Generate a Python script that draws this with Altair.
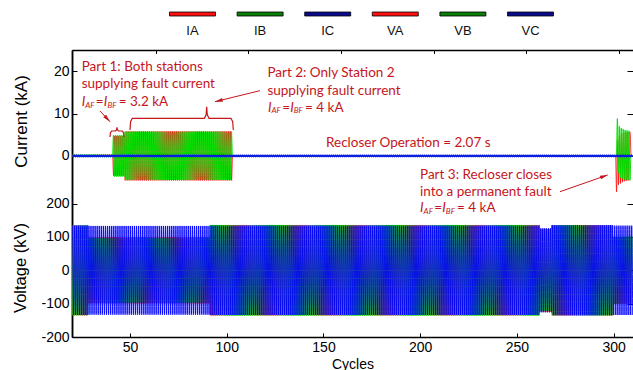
import math
import altair as alt
import pandas as pd

# ---------------- data ----------------
# Current (kA): time segments [t0, t1) in cycles and half-cycle peak per phase
I_t0 = [20.0, 41.2, 47.4, 102.6, 301.5, 308.6]
I_t1 = [41.2, 47.4, 102.6, 301.5, 308.6, 310.0]
IA_pk = [0.25, 4.7, 5.8, 0.0, None, 0.0]
IB_pk = [0.30, 4.9, 5.7, 0.0, None, 0.0]
IC_pk = [0.10, 0.10, 0.10, 0.10, 0.10, 0.10]
# Part 3 (reclose onto permanent fault): successive half-cycle peaks (kA)
IA_p3 = [-8.5, 3.8, -6.8, 4.8, -6.5, 5.2, -6.2, 5.4, -6.0, 5.5, -5.9, 5.6, -5.8, 5.6]
IB_p3 = [8.8, -4.0, 7.0, -5.2, 6.6, -5.4, 6.3, -5.6, 6.1, -5.7, 6.0, -5.7, 5.9, -5.8]

# Voltage (kV): time segments and half-cycle peak per phase
V_t0 = [20.0, 28.4, 91.2, 261.8, 268.0, 299.6]
V_t1 = [28.4, 91.2, 261.8, 268.0, 299.6, 310.0]
VA_pk = [135, 99, 135, 124, 135, 100]
VB_pk = [135, 97, 136, 122, 135, 101]
VC_pk = [134, 133, 134, 126, 135, 134]

# phase offsets (cycles)
PH = {"IA": 0.0, "IB": 0.43, "IC": 0.25, "VA": 0.0, "VB": 0.667, "VC": 0.333}

legend_names = ["IA", "IB", "IC", "VA", "VB", "VC"]
legend_colors = ["#ff1010", "#0a7d0a", "#0a0a8c", "#ff1010", "#0a7d0a", "#0a0a8c"]

x_ticks = [50, 100, 150, 200, 250, 300]
i_ticks = [0, 10, 20]
v_ticks = [-200, -100, 0, 100, 200]

# annotations (x in cycles, y in kA)
ann_text = ["Part 1: Both stations", "supplying fault current",
            "Part 2: Only Station 2", "supplying fault current",
            "Recloser Operation = 2.07 s",
            "Part 3: Recloser closes", "into a permanent fault"]
ann_x = [25.0, 25.0, 121.0, 121.0, 151.3, 199.9, 199.9]
ann_y = [21.06, 16.91, 19.50, 15.40, 2.98, -4.51, -8.45]

eq_x = [25.0, 121.3, 199.9]
eq_y = [12.66, 11.38, -12.37]
eq_val = ["= 3.2 kA", "= 4 kA", "= 4 kA"]

arr_x0 = [34.47, 117.18, 272.26]
arr_y0 = [10.6, 15.4, -8.45]
arr_x1 = [39.64, 93.92, 296.92]
arr_y1 = [8.08, 12.8, -4.51]
arr_ang = [137, 256, 71]

# braces: left end, right end, tip x, end y, middle y, tip y
br_x0 = [39.64, 49.98]
br_x1 = [46.88, 103.38]
br_xt = [43.26, 89.63]
br_ye = [4.46, 6.12]
br_ym = [5.88, 8.88]
br_yt = [6.75, 11.62]

# ---------------- helpers ----------------
W, H = 561, 287
X_DOM = [20, 310]
TOP_DOM = [4.83, 307.6]
I_DOM = [-42.76, 25]
V_DOM = [-200, 660.6]
AXF = "Liberation Sans"
ANNF = "Lato"
RED = "#c4161c"


def wave(t0s, t1s, peaks, phase, explicit=None):
    rows = []
    for t0, t1, pk in zip(t0s, t1s, peaks):
        k = math.ceil((t0 - phase) * 2)
        j = 0
        while phase + k / 2 < t1:
            t = phase + k / 2
            if pk is None:
                v = explicit[min(j, len(explicit) - 1)]
            else:
                v = pk if k % 2 == 0 else -pk
            rows.append({"t": t, "v": v})
            k += 1
            j += 1
    return pd.DataFrame(rows)


def XS(field="t", axis=None, dom=X_DOM):
    return alt.X(f"{field}:Q", scale=alt.Scale(domain=dom, nice=False, zero=False), axis=axis)


def YS(dom, field="v", axis=None):
    return alt.Y(f"{field}:Q", scale=alt.Scale(domain=dom, nice=False, zero=False), axis=axis)


base_ax = dict(grid=False, labelFont=AXF, labelFontSize=14, labelColor="black",
               tickColor="black", tickWidth=1, domainColor="black", domainWidth=1.5,
               titleFont=AXF, titleColor="black", titleFontWeight="normal")


def tick_axis(orient, values, size, offset, domain=False):
    # tick-only axis placed on the opposite edge so that ticks point inward
    return alt.Axis(orient=orient, values=values, title=None, labels=False, domain=domain,
                    ticks=True, tickSize=size, offset=offset, **base_ax)


ax_I_left = alt.Axis(orient="left", values=i_ticks, title="Current (kA)", ticks=False,
                     tickSize=0, labelPadding=3, titleFontSize=17, titleAngle=-90,
                     titleX=-50.5, titleY=71, titleBaseline="middle", titleAlign="center",
                     **base_ax)
ax_V_left = alt.Axis(orient="left", values=v_ticks, title="Voltage (kV)", ticks=False,
                     tickSize=0, labelPadding=3, labelExpr="'' + datum.value",
                     titleFontSize=16.5, titleAngle=-90, titleX=-51.5, titleY=217.5,
                     titleBaseline="middle", titleAlign="center", **base_ax)
ax_X_bottom = alt.Axis(orient="bottom", values=x_ticks, title="Cycles", ticks=False,
                       tickSize=0, labelPadding=3, titleFontSize=14, titleY=27,
                       titleBaseline="middle", **base_ax)

layers = []
INTERP = "monotone"

# ---- voltage waveforms ----
dVA = wave(V_t0, V_t1, VA_pk, PH["VA"])
dVB = wave(V_t0, V_t1, VB_pk, PH["VB"])
dVC = wave(V_t0, V_t1, VC_pk, PH["VC"])
layers.append(alt.Chart(dVA).mark_line(color="#ff0000", strokeWidth=0.8, clip=True,
                                       interpolate=INTERP).encode(
    x=XS(axis=ax_X_bottom), y=YS(V_DOM, axis=ax_V_left)))
layers.append(alt.Chart(dVB).mark_line(color="#00e000", strokeWidth=0.8, clip=True,
                                       interpolate=INTERP).encode(
    x=XS(axis=tick_axis("top", x_ticks, 4, -H)),
    y=YS(V_DOM, axis=tick_axis("right", v_ticks, 5, -W))))
layers.append(alt.Chart(dVC).mark_line(color="#0000ff", strokeWidth=0.9, clip=True,
                                       interpolate=INTERP).encode(
    x=XS(), y=YS(V_DOM, axis=tick_axis("left", v_ticks, 6, -W))))

# ---- current waveforms ----
dIA = wave(I_t0, I_t1, IA_pk, PH["IA"], IA_p3)
dIB = wave(I_t0, I_t1, IB_pk, PH["IB"], IB_p3)
dIC = wave(I_t0, I_t1, IC_pk, PH["IC"])
layers.append(alt.Chart(dIA).mark_line(color="#ff0000", strokeWidth=0.8, clip=True,
                                       interpolate=INTERP).encode(
    x=XS(), y=YS(I_DOM, axis=ax_I_left)))
layers.append(alt.Chart(dIB).mark_line(color="#00e000", strokeWidth=1.0, clip=True,
                                       interpolate=INTERP).encode(
    x=XS(), y=YS(I_DOM, axis=tick_axis("right", i_ticks, 5, -W))))
layers.append(alt.Chart(dIC).mark_line(color="#0a1ee0", strokeWidth=1.8, clip=True).encode(
    x=XS(), y=YS(I_DOM, axis=tick_axis("left", i_ticks, 6, -W))))

# ---- top axis (separate cycle scale of the upper plot), ticks pointing down ----
layers.append(alt.Chart(pd.DataFrame({"t": x_ticks})).mark_point(opacity=0).encode(
    x=XS(axis=tick_axis("bottom", x_ticks, 3.5, -H, domain=True), dom=TOP_DOM),
    y=alt.value(0)))

# ---- legend row ----
leg_df = pd.DataFrame({"name": legend_names})
leg_x = alt.X("name:N", scale=alt.Scale(type="point", domain=legend_names,
                                       range=[120.5, 458.5], padding=0), axis=None)
layers.append(alt.Chart(leg_df).mark_tick(orient="horizontal", size=46, thickness=4,
                                          stroke="black", strokeWidth=0.8, opacity=1).encode(
    x=leg_x, y=alt.value(-36),
    color=alt.Color("name:N", scale=alt.Scale(domain=legend_names, range=legend_colors),
                    legend=None)))
layers.append(alt.Chart(leg_df).mark_text(font=AXF, fontSize=13, color="#111111",
                                          baseline="middle").encode(
    x=leg_x, y=alt.value(-19), text="name:N"))

# ---- annotations ----
ann_df = pd.DataFrame({"t": ann_x, "v": ann_y, "txt": ann_text})
layers.append(alt.Chart(ann_df).mark_text(font=ANNF, fontSize=13.5, color=RED, align="left",
                                          baseline="middle").encode(
    x=XS(), y=YS(I_DOM), text="txt:N"))

eq_df = pd.DataFrame({"t": eq_x, "v": eq_y, "val": eq_val})
pieces = [("I", 0, 0, 13.5, "italic"), ("AF", 3.6, 3.5, 8, "italic"), ("=", 14.2, 0, 13.5, "normal"),
          ("I", 22.2, 0, 13.5, "italic"), ("BF", 25.8, 3.5, 8, "italic")]
for txt, dx, dy, fs, st in pieces:
    layers.append(alt.Chart(eq_df).mark_text(font=ANNF, fontSize=fs, fontStyle=st, color=RED,
                                             align="left", baseline="middle", dx=dx, dy=dy).encode(
        x=XS(), y=YS(I_DOM), text=alt.value(txt)))
layers.append(alt.Chart(eq_df).mark_text(font=ANNF, fontSize=13.5, color=RED, align="left",
                                         baseline="middle", dx=37).encode(
    x=XS(), y=YS(I_DOM), text="val:N"))

arr_df = pd.DataFrame({"x0": arr_x0, "y0": arr_y0, "x1": arr_x1, "y1": arr_y1, "ang": arr_ang})
layers.append(alt.Chart(arr_df).mark_rule(color=RED, strokeWidth=1).encode(
    x=XS("x0"), x2="x1:Q", y=YS(I_DOM, "y0"), y2="y1:Q"))
layers.append(alt.Chart(arr_df).mark_point(shape="M0,0L0.55,2.2L-0.55,2.2Z", filled=True,
                                           size=49, color=RED, opacity=1).encode(
    x=XS("x1"), y=YS(I_DOM, "y1"), angle=alt.Angle("ang:Q", scale=None)))

br_rows = []
for b, (x0, x1, xt, ye, ym, yt) in enumerate(zip(br_x0, br_x1, br_xt, br_ye, br_ym, br_yt)):
    d = 1.2 if (x1 - x0) > 20 else 0.9
    pts = [(x0, ye), (x0 + 0.25 * d, ym - 0.3 * (ym - ye)), (x0 + d, ym), (xt - d, ym),
           (xt - 0.25 * d, ym + 0.3 * (yt - ym)), (xt, yt),
           (xt + 0.25 * d, ym + 0.3 * (yt - ym)), (xt + d, ym), (x1 - d, ym),
           (x1 - 0.25 * d, ym - 0.3 * (ym - ye)), (x1, ye)]
    for i, (px, py) in enumerate(pts):
        br_rows.append({"b": b, "i": i, "t": px, "v": py})
br_df = pd.DataFrame(br_rows)
layers.append(alt.Chart(br_df).mark_line(color=RED, strokeWidth=1.2).encode(
    x=XS(), y=YS(I_DOM), detail="b:N", order="i:Q"))

chart = alt.layer(*layers).resolve_scale(x="independent", y="independent").properties(
    width=W, height=H,
    padding={"left": 72, "top": 50, "right": 0, "bottom": 33},
    autosize=alt.AutoSizeParams(type="none"),
    background="white",
).configure_view(stroke=None)

chart.save("out.html", embed_options={"renderer": "svg", "actions": False})
